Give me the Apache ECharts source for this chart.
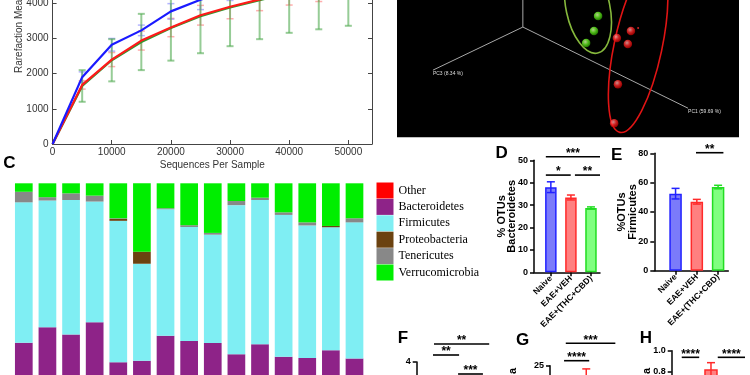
<!DOCTYPE html>
<html>
<head>
<meta charset="utf-8">
<script src="https://cdn.jsdelivr.net/npm/echarts@6.0.0/dist/echarts.min.js"></script>
<style>
html,body{margin:0;padding:0;background:#ffffff;}
#chart{width:750px;height:375px;}
</style>
</head>
<body>
<div id="chart"></div>
<script>
// ---------- Panel A : rarefaction ----------
const seqDepth  = [0,5000,10000,15000,20000,25000,30000,35000,40000,45000,50000];
const naiveMean = [0,1900,2820,3230,3770,4100,4380,4560,4700,4800,4880];
const naiveErr  = [0,150,180,150,220,280,300,320,330,340,350];
const vehMean   = [0,1680,2400,2940,3310,3660,3900,4110,4290,4420,4530];
const vehErr    = [0,120,200,270,260,280,340,320,340,370,380];
const cbdMean   = [0,1650,2380,2900,3300,3630,3880,4090,4290,4440,4550];
const cbdErr    = [0,450,600,800,930,1050,1100,1110,1130,1180,1190];

// ---------- Panel B : PCoA (arbitrary plot units 0-100) ----------
const pcoaGreen = [[58.8,88.3],[57.6,77.4],[55.3,68.6]];
const pcoaRed   = [[68.4,77.4],[64.3,72.3],[67.5,67.9],[64.6,38.7],[63.5,10.2]];
const pcoaSpeck = [[70.5,79.6]];
const pcoaAxes  = [[36.8,80.3,36.8,120],[36.8,80.3,10.5,48.9],[36.8,80.3,85.1,21.2]];
const pcoaAxisNames = ['PC2','PC3 (8.34 %)','PC1 (59.69 %)'];
const ellipseGreen = [[55.85,94.2,6.4,33.6,12]];
const ellipseRed   = [[70.5,66.4,7.0,64.2,-12]];

// ---------- Panel C : phylum composition (%) ----------
const samples = ['1','2','3','4','5','6','7','8','9','10','11','12','13','14','15'];
const phylaNames = ['Other','Bacteroidetes','Firmicutes','Proteobacteria','Tenericutes','Verrucomicrobia'];
const other          = [0,0,0,0,0,0,0,0,0,0,0,0,0,0,0];
const bacteroidetes  = [38.0,44.0,41.2,45.9,30.4,31.0,40.7,38.6,37.9,33.5,37.4,32.5,32.0,35.0,31.8];
const firmicutes     = [54.6,49.3,52.3,47.0,55.0,37.7,49.2,44.4,42.1,58.0,56.1,55.2,51.6,47.9,53.0];
const proteobacteria = [0,0,0,0,0.7,4.7,0,0,0,0,0,0,0,0.5,0];
const tenericutes    = [4.1,1.3,2.6,2.3,0.3,0,0.4,0.7,0.7,1.6,0.9,1.0,1.2,0,1.6];
const verrucomicrobia= [3.3,5.4,3.9,4.8,13.6,26.6,9.7,16.3,19.3,6.9,5.6,11.3,15.2,16.6,13.6];

// ---------- Panels D / E ----------
const groups   = ['Naive','EAE+VEH','EAE+(THC+CBD)'];
const bactMean = [38.0,33.4,28.7];
const bactErr  = [2.4,1.1,0.5];
const bactSig  = [[-0.25,2.45,51.6],[-0.25,0.99,43.4],[1.2,2.45,43.4]];
const bactSigLab = ['***','*','**'];
const firmMean = [52.5,47.0,57.0];
const firmErr  = [3.6,1.6,1.2];
const firmSig  = [[0.96,2.25,80.4]];
const firmSigLab = ['**'];

// ---------- Panels F / G / H (mostly below the frame) ----------
const fSig = [[0,2.2,4.72],[-0.04,1.0,4.28],[0.96,1.95,3.52]];
const fSigLab = ['**','**','***'];
const gMean = [[1,21]];
const gErr  = [[1,21,3.2]];
const gSig  = [[0.17,2.18,30.6],[0.1,1.12,26.25]];
const gSigLab = ['***','****'];
const hMean = [[1,0.823]];
const hErr  = [[1,0.823,0.063]];
const hSig  = [[-0.34,0.46,0.937],[1.31,2.56,0.937]];
const hSigLab = ['****','****'];

const FONT = '"Liberation Sans", Arial, sans-serif';
const grpFill   = ['#7b7bfa','#ff8080','#80ff80'];
const grpStroke = ['#2222ff','#ff2a2a','#22dd22'];
const plain = function(v){ return String(v); };

function errSeries(xi, yi, pts, colors, capHalf, lw, z, clip){
  return {type:'custom', xAxisIndex:xi, yAxisIndex:yi, z:z, clip:clip, silent:true, data:pts,
    renderItem:function(params, api){
      const x=api.value(0), m=api.value(1), e=api.value(2);
      const t=api.coord([x,m+e]), b=api.coord([x,m-e]);
      const c = Array.isArray(colors) ? colors[params.dataIndex] : colors;
      return {type:'group', children:[
        {type:'line', shape:{x1:t[0],y1:t[1],x2:b[0],y2:b[1]}, style:{stroke:c,lineWidth:lw}},
        {type:'line', shape:{x1:t[0]-capHalf,y1:t[1],x2:t[0]+capHalf,y2:t[1]}, style:{stroke:c,lineWidth:lw}},
        {type:'line', shape:{x1:b[0]-capHalf,y1:b[1],x2:b[0]+capHalf,y2:b[1]}, style:{stroke:c,lineWidth:lw}}
      ]};
    }};
}
function sigSeries(xi, yi, pts, labels){
  return {type:'custom', xAxisIndex:xi, yAxisIndex:yi, z:5, clip:false, silent:true, data:pts,
    renderItem:function(params, api){
      const a=api.coord([api.value(0),api.value(2)]), b=api.coord([api.value(1),api.value(2)]);
      return {type:'group', children:[
        {type:'line', shape:{x1:a[0],y1:a[1],x2:b[0],y2:b[1]}, style:{stroke:'#000',lineWidth:1.6}},
        {type:'text', x:(a[0]+b[0])/2, y:a[1]-3, style:{text:labels[params.dataIndex], fill:'#000',
          font:'bold 12px '+FONT, align:'center', verticalAlign:'middle'}}
      ]};
    }};
}
function ellipseSeries(pts, color){
  return {type:'custom', xAxisIndex:1, yAxisIndex:1, clip:true, silent:true, z:3, data:pts,
    renderItem:function(params, api){
      const c=api.coord([api.value(0),api.value(1)]);
      const s=api.size([api.value(2),api.value(3)]);
      return {type:'ellipse', x:c[0], y:c[1], rotation:api.value(4)*Math.PI/180,
        shape:{cx:0,cy:0,rx:s[0],ry:s[1]}, style:{fill:'none',stroke:color,lineWidth:1.6}};
    }};
}
function sphere(light, mid, dark){
  return {type:'radial', x:0.4, y:0.35, r:0.65, colorStops:[
    {offset:0,color:light},{offset:0.5,color:mid},{offset:1,color:dark}]};
}
function barYAxis(gi, max, interval, name, fmt){
  const ax = {gridIndex:gi, type:'value', min:0, max:max, interval:interval,
    axisLine:{show:true,onZero:false,lineStyle:{color:'#000',width:1.5}},
    axisTick:{show:true,length:4,lineStyle:{color:'#000',width:1.5}},
    axisLabel:{fontFamily:FONT,fontWeight:'bold',fontSize:9,color:'#000',margin:6, formatter: fmt || plain},
    splitLine:{show:false}};
  if (name){
    ax.name = name; ax.nameLocation='middle'; ax.nameGap=16.5; ax.nameMoveOverlap=false;
    ax.nameTextStyle={fontFamily:FONT,fontWeight:'bold',fontSize:11,lineHeight:10.5,color:'#000'};
  }
  return ax;
}
function groupXAxis(gi, min, max){
  return {gridIndex:gi, type:'value', min:min, max:max, splitLine:{show:false},
    axisLine:{show:true,onZero:false,lineStyle:{color:'#000',width:1.5}},
    axisTick:{show:true,customValues:[0,1,2],length:4,lineStyle:{color:'#000',width:1.5}},
    axisLabel:{customValues:[0,1,2], formatter:function(v){return groups[Math.round(v)];},
      rotate:45, margin:5, fontFamily:FONT, fontWeight:'bold', fontSize:8.5, color:'#000'}};
}
function groupBars(xi, yi, means, bw){
  return {type:'bar', xAxisIndex:xi, yAxisIndex:yi, barWidth:bw, silent:true, z:2,
    data: means.map(function(v,i){return {value:[i,v], itemStyle:{color:grpFill[i],borderColor:grpStroke[i],borderWidth:1.5}};})};
}
function G(o){ o.outerBoundsMode='none'; o.containLabel=false; return o; }

const chart = echarts.init(document.getElementById('chart'), null, {renderer:'canvas'});

const rareErr = function(mean, err){ return seqDepth.slice(1).map(function(x,i){return [x, mean[i+1], err[i+1]];}); };
const rareLine = function(mean){ return seqDepth.map(function(x,i){return [x, mean[i]];}); };

const phylaColors = {Other:'#ff0000',Bacteroidetes:'#8e2388',Firmicutes:'#7feef3',Proteobacteria:'#6b4210',Tenericutes:'#888888',Verrucomicrobia:'#00ee00'};
const stackOrder = [['Bacteroidetes',bacteroidetes],['Firmicutes',firmicutes],['Proteobacteria',proteobacteria],['Tenericutes',tenericutes],['Verrucomicrobia',verrucomicrobia],['Other',other]];

const option = {
  animation:false,
  backgroundColor:'#ffffff',
  grid:[
    G({left:52.6, top:-31.9, width:319.4, height:175.9}),
    G({left:397, top:0, width:342, height:137.3, show:true, backgroundColor:'#000', borderWidth:0}),
    G({left:12, top:183.3, width:354.3, height:257}),
    G({left:534, top:160.3, width:66, height:112}),
    G({left:654.3, top:153.3, width:74, height:117.4}),
    G({left:416.7, top:362, width:75, height:100}),
    G({left:550, top:365.7, width:75.7, height:100}),
    G({left:671.7, top:350.7, width:74.2, height:105})
  ],
  xAxis:[
    {gridIndex:0, type:'value', min:0, max:54000, interval:10000,
      name:'Sequences Per Sample', nameLocation:'middle', nameGap:16.5,
      nameTextStyle:{fontFamily:FONT,fontSize:10,color:'#333'},
      axisLine:{lineStyle:{color:'#444',width:1}},
      axisTick:{inside:true,length:4,lineStyle:{color:'#444'}},
      axisLabel:{fontFamily:FONT,fontSize:10,color:'#333',margin:3,showMaxLabel:false,formatter:plain},
      splitLine:{show:false}},
    {gridIndex:1, type:'value', min:0, max:100, show:false},
    {gridIndex:2, type:'category', data:samples, show:false},
    groupXAxis(3, -0.84, 2.45),
    groupXAxis(4, -1, 2.48),
    {gridIndex:5, type:'value', min:-0.69, max:2.3, show:false},
    {gridIndex:6, type:'value', min:-0.47, max:2.6, show:false},
    {gridIndex:7, type:'value', min:-0.8, max:2.6, show:false}
  ],
  yAxis:[
    {gridIndex:0, type:'value', min:0, max:5000, interval:1000,
      axisLine:{show:true,onZero:false,lineStyle:{color:'#444',width:1}},
      axisTick:{show:true,inside:true,length:4,lineStyle:{color:'#444'}},
      axisLabel:{fontFamily:FONT,fontSize:10,color:'#333',margin:4,formatter:plain},
      splitLine:{show:false}},
    {gridIndex:1, type:'value', min:0, max:100, show:false},
    {gridIndex:2, type:'value', min:0, max:100, show:false},
    barYAxis(3, 50, 10, '% OTUs\nBacteroidetes'),
    barYAxis(4, 80, 20, '%OTUs\nFirmicutes'),
    barYAxis(5, 4, 1),
    barYAxis(6, 25, 5),
    barYAxis(7, 1, 0.2, null, function(v){return v.toFixed(1);}),
    {gridIndex:0, type:'value', position:'right', min:0, max:5000, interval:1000,
      axisLine:{show:true,onZero:false,lineStyle:{color:'#444',width:1}},
      axisTick:{show:true,inside:true,length:4,lineStyle:{color:'#444'}},
      axisLabel:{show:false}, splitLine:{show:false}}
  ],
  legend:{
    data:phylaNames, orient:'vertical', left:376.5, top:182.5, padding:0,
    itemWidth:17, itemHeight:16, itemGap:0.4, icon:'rect', selectedMode:false,
    textStyle:{fontFamily:'"Liberation Serif", "Times New Roman", serif', fontSize:12, color:'#000'}
  },
  graphic:[
    {type:'text', x:19, y:73, rotation:Math.PI/2, silent:true,
      style:{text:'Rarefaction Measure: observed_species', font:'10px '+FONT, fill:'#333', align:'left', verticalAlign:'middle'}},
    {type:'text', x:9.5, y:163.3, silent:true, style:{text:'C', font:'bold 17px '+FONT, fill:'#000', align:'center', verticalAlign:'middle'}},
    {type:'text', x:501.7, y:153.3, silent:true, style:{text:'D', font:'bold 17px '+FONT, fill:'#000', align:'center', verticalAlign:'middle'}},
    {type:'text', x:616.7, y:155, silent:true, style:{text:'E', font:'bold 17px '+FONT, fill:'#000', align:'center', verticalAlign:'middle'}},
    {type:'text', x:403, y:338, silent:true, style:{text:'F', font:'bold 17px '+FONT, fill:'#000', align:'center', verticalAlign:'middle'}},
    {type:'text', x:522.7, y:340, silent:true, style:{text:'G', font:'bold 17px '+FONT, fill:'#000', align:'center', verticalAlign:'middle'}},
    {type:'text', x:646, y:338, silent:true, style:{text:'H', font:'bold 17px '+FONT, fill:'#000', align:'center', verticalAlign:'middle'}},
    {type:'text', x:513, y:371, rotation:Math.PI/2, silent:true, style:{text:'a', font:'bold 11px '+FONT, fill:'#000', align:'center', verticalAlign:'middle'}},
    {type:'text', x:647, y:371, rotation:Math.PI/2, silent:true, style:{text:'a', font:'bold 11px '+FONT, fill:'#000', align:'center', verticalAlign:'middle'}}
  ],
  series:[]
};

// Panel A series
option.series.push(errSeries(0,0,rareErr(vehMean,vehErr),'rgba(255,120,120,0.6)',3.5,1.5,1,true));
option.series.push(errSeries(0,0,rareErr(naiveMean,naiveErr),'rgba(130,130,255,0.6)',3.5,1.5,1,true));
option.series.push(errSeries(0,0,rareErr(cbdMean,cbdErr),'rgba(80,170,80,0.6)',3.5,2,1,true));
option.series.push({type:'line', xAxisIndex:0, yAxisIndex:0, z:3, showSymbol:false, silent:true, data:rareLine(cbdMean), lineStyle:{color:'#2e9a2e',width:2.2}});
option.series.push({type:'line', xAxisIndex:0, yAxisIndex:0, z:3, showSymbol:false, silent:true, data:rareLine(vehMean), lineStyle:{color:'#ff1a1a',width:2.2}});
option.series.push({type:'line', xAxisIndex:0, yAxisIndex:0, z:3, showSymbol:false, silent:true, data:rareLine(naiveMean), lineStyle:{color:'#1a1aff',width:2.2}});

// Panel B series
option.series.push({type:'custom', xAxisIndex:1, yAxisIndex:1, clip:true, silent:true, z:2, data:pcoaAxes,
  renderItem:function(params, api){
    const a=api.coord([api.value(0),api.value(1)]), b=api.coord([api.value(2),api.value(3)]);
    return {type:'group', children:[
      {type:'line', shape:{x1:a[0],y1:a[1],x2:b[0],y2:b[1]}, style:{stroke:'#a8a8a8',lineWidth:1}},
      {type:'text', x:b[0], y:b[1]+1, style:{text:pcoaAxisNames[params.dataIndex], fill:'#dddddd', font:'5px '+FONT, align:'left', verticalAlign:'top'}}
    ]};
  }});
option.series.push(ellipseSeries(ellipseGreen,'#86b83c'));
option.series.push(ellipseSeries(ellipseRed,'#e01414'));
option.series.push({type:'scatter', xAxisIndex:1, yAxisIndex:1, z:4, silent:true, symbolSize:8.5, data:pcoaGreen,
  itemStyle:{color:sphere('#e0ffb0','#66ee22','#2a9000')}});
option.series.push({type:'scatter', xAxisIndex:1, yAxisIndex:1, z:4, silent:true, symbolSize:8.5, data:pcoaRed,
  itemStyle:{color:sphere('#ffb0b0','#ff2a2a','#b00000')}});
option.series.push({type:'scatter', xAxisIndex:1, yAxisIndex:1, z:4, silent:true, symbolSize:2, data:pcoaSpeck,
  itemStyle:{color:'#ff3030'}});

// Panel C series
stackOrder.forEach(function(p){
  option.series.push({type:'bar', name:p[0], xAxisIndex:2, yAxisIndex:2, stack:'phyla', barWidth:17.7, silent:true,
    data:p[1], itemStyle:{color:phylaColors[p[0]]}});
});

// Panel D / E series
option.series.push(groupBars(3,3,bactMean,11.5));
option.series.push(errSeries(3,3,bactMean.map(function(v,i){return [i,v,bactErr[i]];}),grpStroke,4,1.5,3,false));
option.series.push(sigSeries(3,3,bactSig,bactSigLab));
option.series.push(groupBars(4,4,firmMean,12.5));
option.series.push(errSeries(4,4,firmMean.map(function(v,i){return [i,v,firmErr[i]];}),grpStroke,4,1.5,3,false));
option.series.push(sigSeries(4,4,firmSig,firmSigLab));

// Panels F / G / H
option.series.push(sigSeries(5,5,fSig,fSigLab));
option.series.push({type:'bar', xAxisIndex:6, yAxisIndex:6, barWidth:13, silent:true, data:gMean,
  itemStyle:{color:grpFill[1],borderColor:grpStroke[1],borderWidth:1.5}});
option.series.push(errSeries(6,6,gErr,grpStroke[1],4,1.5,3,false));
option.series.push(sigSeries(6,6,gSig,gSigLab));
option.series.push({type:'bar', xAxisIndex:7, yAxisIndex:7, barWidth:13.5, silent:true, data:hMean,
  itemStyle:{color:grpFill[1],borderColor:grpStroke[1],borderWidth:1.5}});
option.series.push(errSeries(7,7,hErr,grpStroke[1],4,1.5,3,false));
option.series.push(sigSeries(7,7,hSig,hSigLab));

chart.setOption(option);
</script>
</body>
</html>
